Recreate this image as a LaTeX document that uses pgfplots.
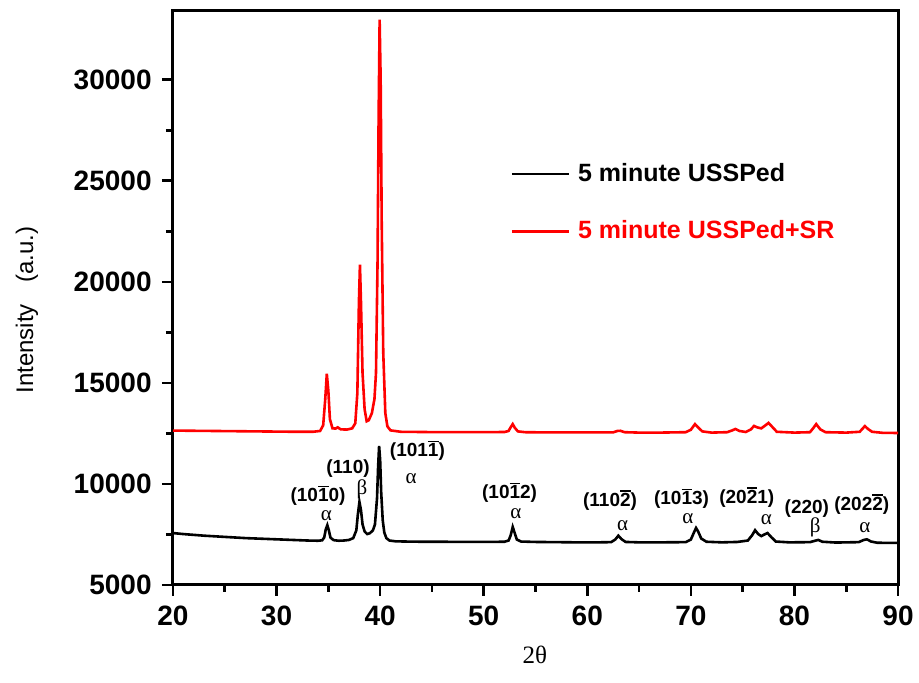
\documentclass[border=0pt]{standalone}
\usepackage{pgfplots}
\pgfplotsset{compat=1.18}
\usepackage{fontspec}
\setmainfont{Liberation Sans}
\newfontfamily\serifgr{Liberation Serif}
\newcommand{\ob}[1]{\vbox{\hrule height 0.9pt\kern0.7pt\hbox{#1}}}
\pgfplotstableread{
x y
20.0 7570
21.0 7520
22.0 7480
23.0 7440
24.0 7410
25.0 7380
26.0 7350
27.0 7320
28.0 7300
29.0 7280
30.0 7260
31.0 7240
32.0 7220
33.0 7200
34.0 7190
34.4 7210
34.6 7350
34.75 7750
34.9 7960
35.05 7700
35.2 7350
35.5 7220
36.0 7190
36.5 7200
37.0 7230
37.4 7320
37.7 7700
37.85 8500
38.0 9110
38.15 8700
38.3 8000
38.5 7650
38.75 7520
39.0 7560
39.3 7700
39.5 8000
39.7 9300
39.8 10800
39.9 11880
40.0 11200
40.1 9600
40.25 8200
40.4 7600
40.6 7320
40.9 7200
41.5 7160
42.5 7150
44 7140
46 7140
48 7130
50 7130
52 7140
52.4 7200
52.6 7450
52.8 7870
53.0 7560
53.2 7250
53.6 7150
55 7130
57 7120
59 7110
61 7110
62.3 7120
62.7 7250
63.0 7440
63.3 7270
63.7 7130
65 7110
67 7110
69.5 7120
70.0 7250
70.3 7600
70.5 7820
70.7 7650
71.0 7300
71.5 7140
73 7110
74.5 7130
75.5 7200
75.9 7450
76.2 7710
76.5 7520
76.8 7420
77.1 7500
77.4 7570
77.8 7350
78.2 7150
79.5 7110
81.5 7120
82.0 7190
82.3 7230
82.7 7140
84 7100
86.2 7120
86.7 7230
87.0 7260
87.4 7150
88 7090
90 7080
}\blackdata
\pgfplotstableread{
x y
20.0 12640
22 12630
24 12620
26 12610
28 12600
30 12590
32 12580
33.5 12580
34.2 12620
34.5 12900
34.7 14200
34.85 15450
35.0 14600
35.15 13200
35.4 12750
35.7 12740
35.9 12800
36.2 12700
36.8 12690
37.3 12750
37.6 13000
37.8 14500
37.95 19000
38.05 20850
38.15 19000
38.3 15500
38.5 13700
38.7 13100
38.9 13150
39.2 13500
39.45 14200
39.6 15500
39.75 21000
39.85 28000
39.95 32970
40.05 30000
40.15 23000
40.3 16500
40.5 13500
40.7 12850
41.0 12650
42 12580
44 12570
46 12560
48 12560
50 12560
52 12570
52.4 12620
52.6 12800
52.8 12960
53.0 12780
53.3 12600
54 12560
56 12550
58 12550
60 12550
62.5 12550
62.9 12620
63.2 12630
63.6 12560
65 12540
67 12540
69.5 12560
70.0 12680
70.4 12960
70.7 12800
71.1 12600
72 12540
73.5 12560
74.0 12650
74.3 12720
74.7 12620
75.3 12570
75.8 12700
76.1 12870
76.4 12800
76.8 12750
77.2 12900
77.5 13020
77.9 12800
78.3 12580
80 12540
81.5 12560
81.8 12750
82.1 12960
82.5 12700
83 12560
85 12540
86.3 12580
86.8 12860
87.1 12720
87.5 12580
88.5 12530
90 12520
}\reddata
\begin{document}
\begin{tikzpicture}
\begin{axis}[
  scale only axis,
  width=362.5pt, height=287pt,
  xmin=20, xmax=90, ymin=5000, ymax=33400,
  xtick={20,30,...,90}, ytick={5000,10000,...,30000},
  scaled y ticks=false,
  minor x tick num=1, minor y tick num=1,
  xtick pos=bottom, ytick pos=left,
  tick align=outside,
  major tick length=5.5pt, minor tick length=3.5pt,
  axis line style={line width=1.5pt},
  every tick/.style={line width=1.3pt, black},
  /pgf/number format/assume math mode=true,
  /pgf/number format/1000 sep={},
  tick label style={font=\fontsize{14}{16}\selectfont\bfseries},
  yticklabel style={inner sep=0pt, anchor=east, xshift=-5pt},
  xticklabel style={inner sep=0pt, anchor=north, yshift=-5pt},
  xlabel={\serifgr 2θ},
  xlabel style={font=\fontsize{12.5}{14}\selectfont, at={(axis description cs:0.499,-0.122)}, anchor=center},
  ylabel={Intensity\hspace{0.9em}(a.u.)},
  ylabel style={font=\fontsize{12}{14}\selectfont, at={(axis description cs:-0.2014,0.479)}, anchor=center},
  legend style={draw=none, fill=none, inner sep=0pt, at={(axis description cs:0.465,0.666)}, anchor=west,
    font=\fontsize{12.5}{14}\selectfont\bfseries, row sep=18pt,
    nodes={inner sep=0pt},
    /tikz/every odd column/.append style={column sep=4pt}},
  legend cell align=left,
  legend image code/.code={\draw[#1, line width=1.3pt] (0pt,0pt) -- (28.5pt,0pt);},
]
\addplot[black, line width=1.3pt] table {\blackdata};
\addlegendentry{5 minute USSPed}
\addplot[red, line width=1.3pt] table {\reddata};
\addlegendentry{\textcolor{red}{5 minute USSPed+SR}}
\begin{scope}[every node/.style={font=\fontsize{9.5}{11}\selectfont\bfseries, inner sep=0pt, anchor=base}]
\node at (axis cs:34.0,9110) {(10\ob{1}0)};
\node at (axis cs:36.9,10496) {(110)};
\node at (axis cs:43.6,11337) {(101\ob{1})};
\node at (axis cs:52.5,9258) {(10\ob{1}2)};
\node at (axis cs:62.2,8862) {(110\ob{2})};
\node at (axis cs:69.1,8962) {(10\ob{1}3)};
\node at (axis cs:75.4,9011) {(20\ob{2}1)};
\node at (axis cs:81.2,8516) {(220)};
\node at (axis cs:86.5,8665) {(202\ob{2})};
\end{scope}
\begin{scope}[every node/.style={font=\fontsize{10.5}{12}\selectfont\serifgr, inner sep=0pt, anchor=base}]
\node at (axis cs:34.8,8167) {α};
\node at (axis cs:43.0,9999) {α};
\node at (axis cs:53.1,8266) {α};
\node at (axis cs:63.4,7672) {α};
\node at (axis cs:69.7,8067) {α};
\node at (axis cs:77.3,7969) {α};
\node at (axis cs:86.8,7600) {α};
\end{scope}
\begin{scope}[every node/.style={font=\fontsize{10.5}{12}\selectfont\serifgr, inner sep=0pt}]
\node at (axis cs:38.25,9750) {β};
\node at (axis cs:82.0,7830) {β};
\end{scope}
\end{axis}
\pgfresetboundingbox
\path (-86.5pt,-49pt) rectangle (373pt,292.5pt);
\end{tikzpicture}
\end{document}
